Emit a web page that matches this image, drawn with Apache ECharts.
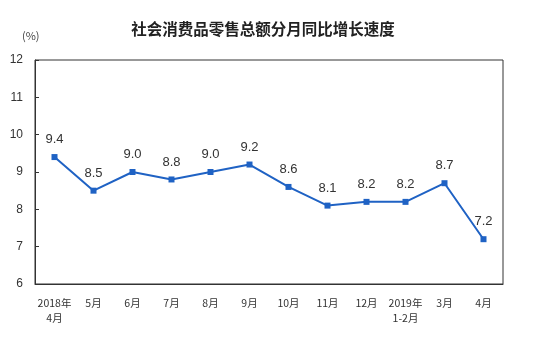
<!DOCTYPE html>
<html><head><meta charset="utf-8">
<script src="https://cdn.jsdelivr.net/npm/echarts@6/dist/echarts.min.js"></script>
<style>html,body{margin:0;padding:0;background:#fff}#c{width:554px;height:339px}</style>
</head><body><div id="c"></div>
<script>
const categories = ['2018年\n4月','5月','6月','7月','8月','9月','10月','11月','12月','2019年\n1-2月','3月','4月'];
const values = [9.4, 8.5, 9.0, 8.8, 9.0, 9.2, 8.6, 8.1, 8.2, 8.2, 8.7, 7.2];
const yTicks = [6, 7, 8, 9, 10, 11, 12];
const title = '社会消费品零售总额分月同比增长速度';
const unit = '(%)';

const chart = echarts.init(document.getElementById('c'));
chart.setOption({
  animation: false,
  title: {text: title, left: 258, top: 16, textAlign: 'center',
    textStyle: {fontSize: 15.5, fontWeight: 'bold', color: '#222', fontFamily: 'Noto Sans CJK SC'}},
  graphic: [{type: 'text', left: 22, top: 30, style: {text: unit, fontSize: 11, fill: '#444', fontFamily: 'Noto Sans CJK SC'}},
    {type: 'rect', shape: {x: 35, y: 60, width: 468, height: 224}, style: {fill: 'none', stroke: '#333', lineWidth: 1}, z: 0}],
  grid: {left: 35, top: 60, width: 468, height: 224, show: false},
  xAxis: {type: 'category', data: categories, boundaryGap: true,
    axisLine: {lineStyle: {color: '#333'}},
    axisTick: {inside: true, length: 4, lineStyle: {color: '#333'}},
    axisLabel: {color: '#333', fontSize: 10.5, margin: 12, lineHeight: 15, fontFamily: 'Noto Sans CJK SC', interval: 0}},
  yAxis: {type: 'value', min: yTicks[0], max: yTicks[yTicks.length-1], interval: 1,
    axisLine: {show: true, lineStyle: {color: '#333'}},
    axisTick: {show: true, inside: true, length: 4, lineStyle: {color: '#333'}},
    splitLine: {show: false},
    axisLabel: {color: '#333', fontSize: 12, margin: 12, fontFamily: 'Liberation Sans'}},
  series: [{type: 'line', data: values, symbol: 'rect', symbolSize: 6,
    lineStyle: {color: '#1f62c4', width: 2}, itemStyle: {color: '#1f62c4'},
    label: {show: true, position: 'top', distance: 8, fontSize: 13, color: '#333',
      fontFamily: 'Liberation Sans', formatter: p => p.value.toFixed(1)}}]
});
</script></body></html>
